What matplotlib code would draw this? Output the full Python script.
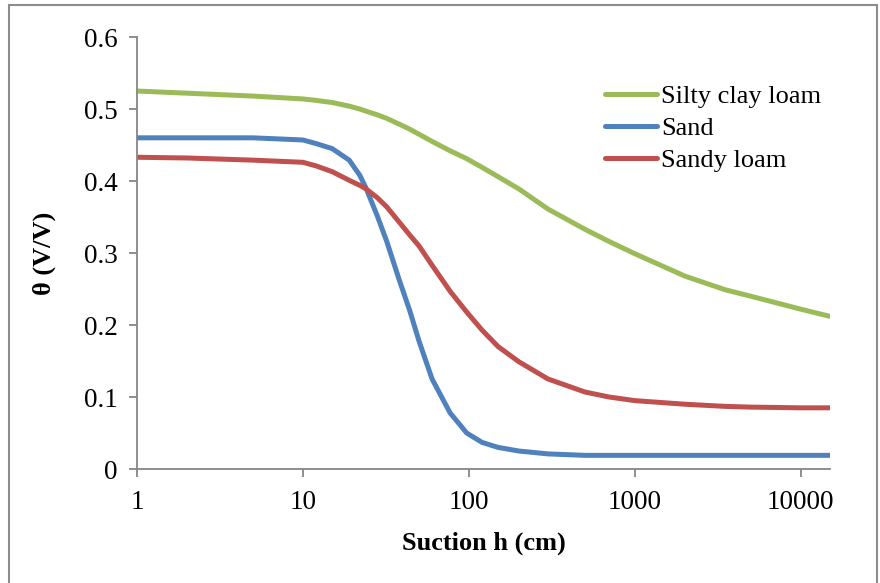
import matplotlib
matplotlib.use("Agg")
import matplotlib.pyplot as plt
from matplotlib.patches import Rectangle
from matplotlib.ticker import FixedLocator, NullLocator

plt.rcParams["font.family"] = ["Liberation Serif", "DejaVu Serif"]

# suction head (cm) and water content
suction = [1, 2, 5, 10, 12, 15, 19, 22, 24, 28, 32, 38, 44, 50, 60, 77, 97,
           120, 150, 200, 300, 500, 700, 1000, 2000, 3500, 5000, 10000, 15000]
silty_clay_loam = [0.525, 0.522, 0.518, 0.514, 0.512, 0.509, 0.504, 0.500, 0.497,
                   0.492, 0.487, 0.479, 0.472, 0.465, 0.455, 0.442, 0.431, 0.419,
                   0.406, 0.389, 0.361, 0.333, 0.316, 0.299, 0.268, 0.249, 0.240,
                   0.222, 0.212]
sand = [0.460, 0.460, 0.460, 0.457, 0.452, 0.445, 0.429, 0.408, 0.390, 0.352,
        0.316, 0.263, 0.220, 0.178, 0.125, 0.078, 0.050, 0.037, 0.030, 0.025,
        0.021, 0.019, 0.019, 0.019, 0.019, 0.019, 0.019, 0.019, 0.019]
sandy_loam = [0.433, 0.432, 0.429, 0.426, 0.421, 0.413, 0.401, 0.394, 0.389,
              0.377, 0.364, 0.343, 0.325, 0.310, 0.283, 0.247, 0.218, 0.193,
              0.170, 0.149, 0.125, 0.107, 0.100, 0.095, 0.090, 0.087, 0.086,
              0.085, 0.085]

series = [("Silty clay loam", silty_clay_loam, "#9BBB59"),
          ("Sand", sand, "#4F81BD"),
          ("Sandy loam", sandy_loam, "#C0504D")]

x_ticks = [1, 10, 100, 1000, 10000]
y_ticks = [0, 0.1, 0.2, 0.3, 0.4, 0.5, 0.6]
y_labels = ["0", "0.1", "0.2", "0.3", "0.4", "0.5", "0.6"]

fig = plt.figure(figsize=(8.8, 5.83), dpi=100)
ax = fig.add_axes([0.1557, 0.1955, 0.7875, 0.741])

for name, vals, color in series:
    ax.plot(suction, vals, color=color, lw=3.6, label=name,
            solid_capstyle="round", solid_joinstyle="round")

ax.set_xscale("log")
ax.set_xlim(1, 15000)
ax.set_ylim(0, 0.6)
ax.xaxis.set_major_locator(FixedLocator(x_ticks))
ax.xaxis.set_minor_locator(NullLocator())
ax.set_xticklabels([str(t) for t in x_ticks])
ax.set_yticks(y_ticks)
ax.set_yticklabels(y_labels)

grey = "#868686"
for side in ("top", "right"):
    ax.spines[side].set_visible(False)
for side in ("left", "bottom"):
    ax.spines[side].set_color(grey)
    ax.spines[side].set_linewidth(1.3)
ax.tick_params(axis="both", colors=grey, labelcolor="black", labelsize=19.5,
               width=1.3, length=6, direction="out")
ax.tick_params(axis="x", pad=9)
ax.tick_params(axis="y", pad=8)

ax.set_xlabel("Suction h (cm)", fontsize=19, fontweight="bold", labelpad=12)
ax.set_ylabel("θ (V/V)", fontsize=19, fontweight="bold", labelpad=20)

ax.legend(loc="upper left", bbox_to_anchor=(0.675, 0.873),
          bbox_transform=fig.transFigure, frameon=False, fontsize=19,
          handlelength=2.0, handletextpad=0.15, labelspacing=0.32,
          borderaxespad=0)

fig.patches.append(Rectangle((9 / 880, -0.01), 868 / 880, 1 - 5 / 583 + 0.01,
                             transform=fig.transFigure, fill=False,
                             edgecolor="#8C8C8C", lw=1.5))

fig.savefig("out.png", dpi=100)
